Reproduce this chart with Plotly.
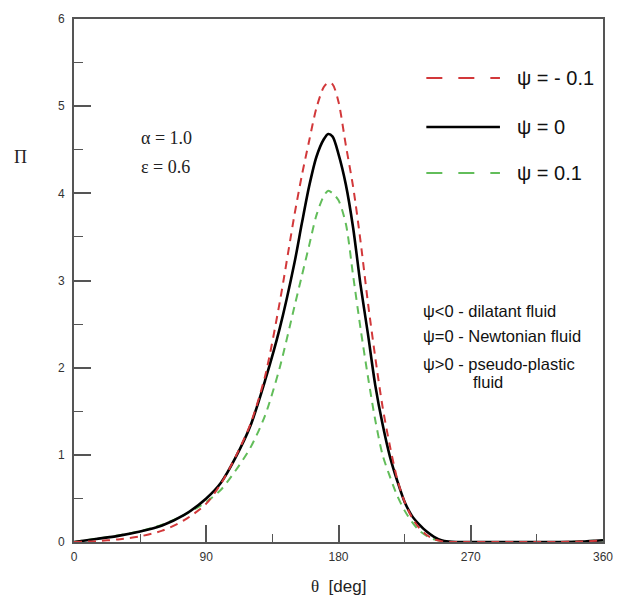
import plotly.graph_objects as go

# ---- data ----
theta = [0, 15, 30, 45, 60, 75, 90, 100, 110, 120, 130, 140, 150, 155, 160, 165, 170, 173, 176,
         180, 185, 190, 195, 200, 205, 210, 215, 220, 225, 230, 235, 240, 245, 250, 255, 260,
         270, 285, 300, 315, 330, 345, 360]

pi_psi_m01 = [0.0, 0.01, 0.03, 0.065, 0.13, 0.25, 0.44, 0.67, 0.98, 1.35, 1.9, 2.75, 3.75, 4.2, 4.6, 4.98, 5.22, 5.27, 5.25,
              5.05, 4.55, 4.07, 3.45, 2.75, 2.12, 1.55, 1.1, 0.72, 0.46, 0.28, 0.16, 0.08, 0.03, 0.01, 0.0, 0.0,
              0.0, 0.0, 0.0, 0.0, 0.0, 0.005, 0.02]

pi_psi_0 = [0.0, 0.035, 0.07, 0.12, 0.19, 0.31, 0.5, 0.68, 0.97, 1.33, 1.85, 2.45, 3.2, 3.65, 4.08, 4.42, 4.62, 4.68, 4.65,
            4.45, 4.1, 3.6, 2.95, 2.39, 1.8, 1.35, 0.98, 0.7, 0.46, 0.3, 0.2, 0.12, 0.06, 0.02, 0.005, 0.0,
            0.0, 0.0, 0.0, 0.0, 0.0, 0.005, 0.02]

pi_psi_p01 = [0.0, 0.037, 0.075, 0.125, 0.2, 0.31, 0.46, 0.6, 0.82, 1.08, 1.45, 2.0, 2.7, 3.05, 3.4, 3.75, 3.97, 4.03, 4.0,
              3.92, 3.65, 3.05, 2.45, 1.9, 1.4, 1.0, 0.75, 0.53, 0.36, 0.23, 0.13, 0.07, 0.03, 0.01, 0.0, 0.0,
              0.0, 0.0, 0.0, 0.0, 0.0, 0.005, 0.02]

x_ticks = [0, 90, 180, 270, 360]
y_ticks = [0, 1, 2, 3, 4, 5, 6]

series_names = ["ψ = - 0.1", "ψ = 0", "ψ = 0.1"]
RED = "#d2383a"
GREEN = "#62bd5a"
BLACK = "#000000"

fig = go.Figure()
fig.add_trace(go.Scatter(x=theta, y=pi_psi_p01, mode="lines", name=series_names[2], line_shape="spline",
                         line=dict(color=GREEN, width=2, dash="8px,6px", smoothing=0.8), showlegend=False))
fig.add_trace(go.Scatter(x=theta, y=pi_psi_0, mode="lines", name=series_names[1], line_shape="spline",
                         line=dict(color=BLACK, width=2.6, smoothing=0.8), showlegend=False))
fig.add_trace(go.Scatter(x=theta, y=pi_psi_m01, mode="lines", name=series_names[0], line_shape="spline",
                         line=dict(color=RED, width=2, dash="8px,6px", smoothing=0.8), showlegend=False))

AX = "#555555"
fig.update_xaxes(range=[0, 360], tickvals=x_ticks, ticktext=[str(v) for v in x_ticks],
                 ticks="inside", ticklen=17, tickwidth=1.5, tickcolor=AX, ticklabelstandoff=3,
                 minor=dict(ticks="inside", ticklen=8, tickwidth=1.2, tickcolor=AX, dtick=45, tick0=0),
                 showline=True, linecolor=AX, linewidth=1.6, mirror=True,
                 showgrid=False, zeroline=False,
                 tickfont=dict(family="Liberation Sans, Arial", size=12, color="#333333"))
fig.update_yaxes(range=[0, 6], tickvals=y_ticks, ticktext=[str(v) for v in y_ticks],
                 ticks="inside", ticklen=17, tickwidth=1.5, tickcolor=AX, ticklabelstandoff=5,
                 minor=dict(ticks="inside", ticklen=9, tickwidth=1.2, tickcolor=AX, dtick=0.5, tick0=0),
                 showline=True, linecolor=AX, linewidth=1.6, mirror=True,
                 showgrid=False, zeroline=False,
                 tickfont=dict(family="Liberation Sans, Arial", size=12, color="#333333"))

annotations = []
# axis titles
annotations.append(dict(text="<span style='font-family:Liberation Serif'>θ</span>  [deg]",
                        xref="paper", yref="paper", x=0.5, y=0, xanchor="center", yanchor="middle",
                        yshift=-44, showarrow=False,
                        font=dict(family="Liberation Sans, Arial", size=17, color="#222222")))
annotations.append(dict(text="Π", xref="paper", yref="paper", x=0, y=(542 - 157) / 523,
                        xanchor="center", yanchor="middle", xshift=-54, showarrow=False,
                        font=dict(family="Liberation Serif, Times New Roman", size=18, color="#222222")))
# parameters
annotations.append(dict(text="α = 1.0", xref="paper", yref="paper", x=(140 - 74) / 539, y=(542 - 138) / 523,
                        xanchor="left", yanchor="middle", showarrow=False,
                        font=dict(family="Liberation Serif, Times New Roman", size=18, color="#222222")))
annotations.append(dict(text="ε = 0.6", xref="paper", yref="paper", x=(140 - 74) / 539, y=(542 - 167) / 523,
                        xanchor="left", yanchor="middle", showarrow=False,
                        font=dict(family="Liberation Serif, Times New Roman", size=18, color="#222222")))
# fluid descriptions
desc = [("ψ<0 - dilatant fluid", 428, 311), ("ψ=0 - Newtonian fluid", 428, 336),
        ("ψ>0 - pseudo-plastic", 428, 364), ("fluid", 479, 382)]
for txt, px, py in desc:
    annotations.append(dict(text=txt, xref="paper", yref="paper", x=(px - 74) / 539, y=(542 - py) / 523,
                            xanchor="left", yanchor="middle", showarrow=False,
                            font=dict(family="Liberation Sans, Arial", size=16.5, color="#111111")))

# custom legend
legend_rows = [(series_names[0], RED, "16px,16px", 2, 78),
               (series_names[1], BLACK, "solid", 2.6, 127),
               (series_names[2], GREEN, "16px,16px", 2, 173)]
shapes = []
for name, col, dash, w, py in legend_rows:
    yp = (542 - py) / 523
    shapes.append(dict(type="line", xref="paper", yref="paper",
                       x0=(433 - 74) / 539, x1=(508 - 74) / 539, y0=yp, y1=yp,
                       line=dict(color=col, width=w, dash=dash)))
    annotations.append(dict(text=name, xref="paper", yref="paper", x=(523 - 74) / 539, y=yp,
                            xanchor="left", yanchor="middle", showarrow=False,
                            font=dict(family="Liberation Sans, Arial", size=20, color="#111111")))

fig.update_layout(width=623, height=595, margin=dict(l=74, r=10, t=19, b=53),
                  plot_bgcolor="white", paper_bgcolor="white",
                  annotations=annotations, shapes=shapes, showlegend=False)

fig.write_html("out.html")
